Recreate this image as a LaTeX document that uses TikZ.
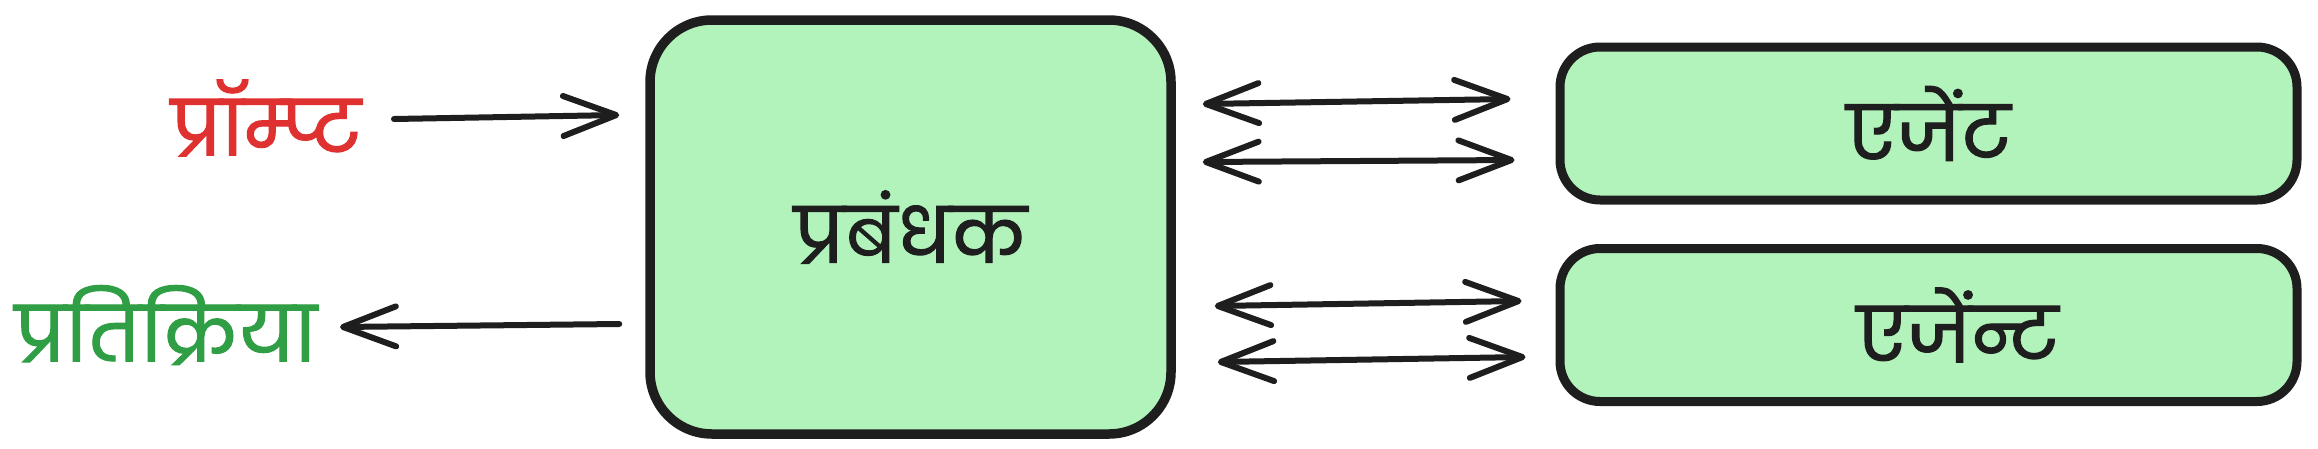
\documentclass[tikz,border=0pt]{standalone}
\usepackage{fontspec}
\newfontfamily\deva[Script=Devanagari,FakeBold=1.6]{Poppins}
\newcommand{\dtxt}[1]{{\deva\fontsize{76}{86}\selectfont #1}}
\usetikzlibrary{arrows.meta}
\definecolor{strokec}{HTML}{1E1E1E}
\definecolor{fillg}{HTML}{B2F2BB}
\definecolor{redt}{HTML}{E03131}
\definecolor{greent}{HTML}{2F9E44}
\tikzset{
  vtip/.tip={Straight Barb[length=53pt, width=40pt, line width=6pt, round]},
  lbl/.style={inner sep=0pt},
  mgrbox/.style={draw=strokec, fill=fillg, line width=9.5pt, rounded corners=62pt,
    minimum width=521pt, minimum height=414pt, inner sep=0pt, text=strokec},
  agentbox/.style={draw=strokec, fill=fillg, line width=9pt, rounded corners=40pt,
    minimum width=737pt, minimum height=153pt, inner sep=0pt, text=strokec},
  arr/.style={draw=strokec, line width=6pt, line cap=round, -vtip},
  darr/.style={draw=strokec, line width=6pt, line cap=round, vtip-vtip}
}
\begin{document}
\begin{tikzpicture}[x=1pt,y=1pt]
\useasboundingbox (0,0) rectangle (2318,-448);
\fill[white] (0,0) rectangle (2318,-448);

\node[mgrbox] (mgr) at (910.5,-227) {\dtxt{प्रबंधक}};
\node[agentbox] (ag1) at (1928.5,-123.5) {\dtxt{एजेंट}};
\node[agentbox] (ag2) at (1928.5,-325) {};
\node[lbl, text=strokec] (ag2t) at ([xshift=29pt]ag2.center) {\dtxt{एजेंन्ट}};

\node[lbl, text=redt] (prm) at (266,-118) {\dtxt{प्रॉम्प्ट}};
\node[lbl, text=greent] (rsp) at (166,-325) {\dtxt{प्रतिक्रिया}};

\coordinate (p0) at (394,-119);
\coordinate (r0) at (340,-327);

\draw[arr] (p0) -- ([xshift=-26pt,yshift=112pt]mgr.west);
\draw[arr] ([xshift=-26pt,yshift=-97pt]mgr.west) -- (r0);

\draw[darr] ([xshift=27pt,yshift=123pt]mgr.east) -- ([xshift=-45pt,yshift=24.5pt]ag1.west);
\draw[darr] ([xshift=27pt,yshift=65pt]mgr.east) -- ([xshift=-41pt,yshift=-36.5pt]ag1.west);
\draw[darr] ([xshift=39pt,yshift=-79pt]mgr.east) -- ([xshift=-34pt,yshift=24pt]ag2.west);
\draw[darr] ([xshift=42pt,yshift=-135pt]mgr.east) -- ([xshift=-30pt,yshift=-32pt]ag2.west);
\end{tikzpicture}
\end{document}
